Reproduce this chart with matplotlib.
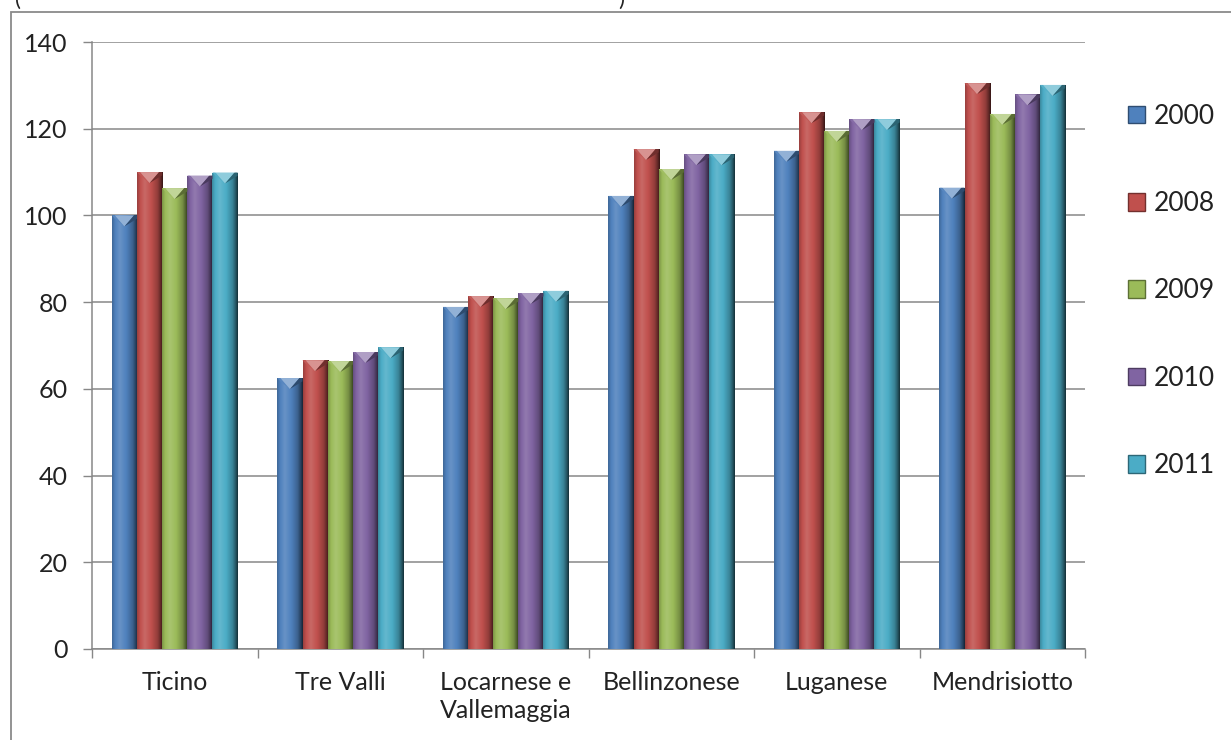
import numpy as np
import matplotlib
matplotlib.use("Agg")
import matplotlib.pyplot as plt
from matplotlib.patches import Rectangle, Polygon
from matplotlib.colors import to_rgb

# --- data -----------------------------------------------------------------
regions = ["Ticino", "Tre Valli", "Locarnese e\nVallemaggia",
           "Bellinzonese", "Luganese", "Mendrisiotto"]
years = ["2000", "2008", "2009", "2010", "2011"]
v2000 = [100.0, 62.5, 78.9, 104.5, 114.9, 106.4]
v2008 = [110.0, 66.6, 81.4, 115.3, 123.8, 130.5]
v2009 = [106.3, 66.4, 80.9, 110.7, 119.5, 123.4]
v2010 = [109.2, 68.5, 82.1, 114.1, 122.2, 127.9]
v2011 = [109.9, 69.6, 82.6, 114.1, 122.2, 130.1]
series = [v2000, v2008, v2009, v2010, v2011]
y_ticks = [0, 20, 40, 60, 80, 100, 120, 140]

colors = ["#4F81BD", "#C0504D", "#9BBB59", "#8064A2", "#4BACC6"]

plt.rcParams["font.family"] = ["Lato", "DejaVu Sans"]

W, H = 1231, 740
fig = plt.figure(figsize=(W / 100, H / 100), dpi=100)
ax = fig.add_axes([92 / W, 1 - 649 / H, (1085 - 92) / W, (649 - 42) / H])

n = len(series)
group_w = 0.76
bw = group_w / n
x = np.arange(len(regions))


def shade(rgb, f):
    rgb = np.array(rgb)
    if f >= 1:
        return np.clip(rgb + (1 - rgb) * (f - 1), 0, 1)
    return rgb * f


# horizontal light profile across a bar face
prof_t = np.array([0.0, 0.12, 0.3, 0.55, 0.8, 0.93, 1.0])
prof_f = np.array([0.8, 1.0, 1.14, 1.0, 0.76, 0.48, 0.28])
tt = np.linspace(0, 1, 64)
ff = np.interp(tt, prof_t, prof_f)

bevel_px = 11
units_per_px = 140 / (649 - 42)
bevel = bevel_px * units_per_px

containers = []
for i, (vals, col) in enumerate(zip(series, colors)):
    offs = (i - (n - 1) / 2) * bw
    bc = ax.bar(x + offs, vals, width=bw, color=col, label=years[i],
                edgecolor="none", linewidth=0, zorder=2)
    containers.append(bc)
    base = to_rgb(col)
    grad = np.array([[shade(base, f) for f in ff]])
    for p in bc.patches:
        x0, w, h = p.get_x(), p.get_width(), p.get_height()
        im = ax.imshow(grad, extent=[x0, x0 + w, 0, h], aspect="auto",
                       interpolation="bilinear", zorder=3, origin="lower")
        im.set_clip_path(p)
        # chamfered top: side facets and a light facet pointing down
        xm = x0 + w / 2
        ax.add_patch(Polygon([(x0, h), (x0 + w * 0.12, h - bevel * 0.3),
                              (xm, h - bevel), (x0 + w * 0.12, h)],
                             closed=True, facecolor=shade(base, 1.05),
                             edgecolor="none", zorder=4))
        ax.add_patch(Polygon([(x0 + w * 0.12, h), (xm, h - bevel),
                              (x0 + w * 0.88, h)],
                             closed=True, facecolor=shade(base, 1.38),
                             edgecolor="none", zorder=4))
        ax.add_patch(Polygon([(x0 + w * 0.88, h), (xm, h - bevel),
                              (x0 + w, h - bevel * 0.3), (x0 + w, h)],
                             closed=True, facecolor=shade(base, 0.58),
                             edgecolor="none", zorder=4))

ax.set_xlim(-0.5, len(regions) - 0.5)
ax.set_ylim(0, 140)

# gridlines and axes
ax.set_yticks(y_ticks)
ax.yaxis.grid(True, color="#878787", linewidth=1.1, zorder=0)
ax.set_axisbelow(True)
ax.tick_params(axis="y", length=6.5, width=1, color="#878787", pad=11,
               labelsize=18, labelcolor="#222222")

ax.set_xticks(np.arange(-0.5, len(regions), 1.0))
ax.set_xticklabels([])
ax.set_xticks(x, minor=True)
ax.set_xticklabels(regions, minor=True, fontsize=18, color="#222222",
                   linespacing=1.25)
ax.tick_params(axis="x", which="major", length=6.5, width=1, color="#878787")
ax.tick_params(axis="x", which="minor", length=0, pad=16)

for s in ["top", "right"]:
    ax.spines[s].set_visible(False)
for s in ["left", "bottom"]:
    ax.spines[s].set_color("#878787")
    ax.spines[s].set_linewidth(1.1)

# legend
leg = fig.legend(handles=[c.patches[0] for c in containers], labels=years,
                 loc="center left", bbox_to_anchor=(1115 / W, 1 - 291 / H),
                 frameon=False, fontsize=19, handlelength=0.65,
                 handleheight=0.65, handletextpad=0.3, labelspacing=2.36,
                 borderpad=0)
for hnd, col in zip(leg.legend_handles, colors):
    hnd.set_facecolor(col)
    hnd.set_edgecolor(shade(to_rgb(col), 0.6))
    hnd.set_linewidth(1)
for t in leg.get_texts():
    t.set_color("#222222")

# outer chart frame
fig.add_artist(Rectangle((11 / W, -0.1), 1.2, 1 - 12.5 / H + 0.1,
                         transform=fig.transFigure, fill=False,
                         edgecolor="#8a8a8a", linewidth=1.3))

# lower part of the caption line above the frame
fig.text(15 / W, 1 + 10 / H, "(", fontsize=16, color="#222222",
         ha="left", va="top")
fig.text(618 / W, 1 + 10 / H, ")", fontsize=16, color="#222222",
         ha="left", va="top")

fig.savefig("out.png", dpi=100, facecolor="white")
